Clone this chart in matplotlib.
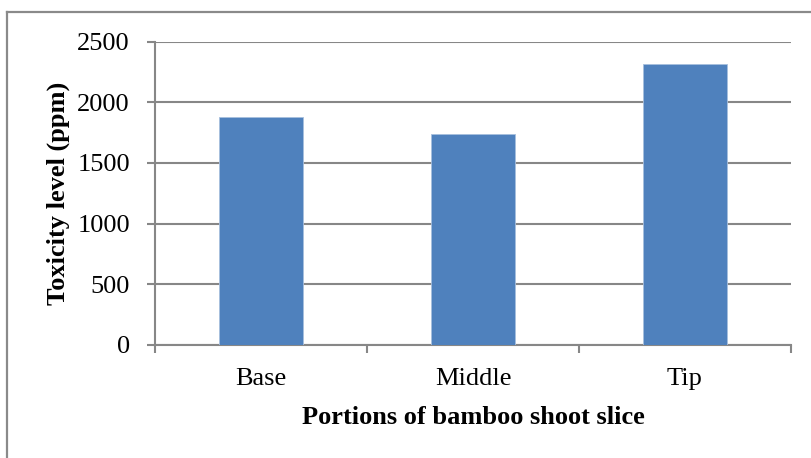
import matplotlib
matplotlib.use("Agg")
import matplotlib.pyplot as plt
from matplotlib.lines import Line2D

categories = ["Base", "Middle", "Tip"]
values = [1880, 1735, 2313]
yticks = [0, 500, 1000, 1500, 2000, 2500]

plt.rcParams['font.family'] = ['Liberation Serif', 'DejaVu Serif']

W, H = 812, 458
fig = plt.figure(figsize=(W/100, H/100), dpi=100)
ax = fig.add_axes([155/W, 1-344.7/H, (791-155)/W, (344.7-41.7)/H])

grid_c = '#878787'
x = list(range(len(categories)))
ax.bar(x, values, width=0.4, color='#4F81BD', edgecolor='#A7BFDE', linewidth=0.6, zorder=3)
ax.set_xlim(-0.5, len(categories)-0.5)
ax.set_ylim(0, 2500)
ax.set_yticks(yticks)
ax.set_yticklabels([str(v) for v in yticks])
ax.yaxis.grid(True, color=grid_c, linewidth=1.5, zorder=0)
ax.set_axisbelow(True)

ax.set_xticks([i - 0.5 for i in range(len(categories)+1)], minor=False)
ax.set_xticklabels([])
ax.set_xticks(x, minor=True)
ax.set_xticklabels(categories, minor=True)
ax.tick_params(axis='x', which='major', length=6, width=1.5, color=grid_c, direction='out')
ax.tick_params(axis='x', which='minor', length=0, pad=16.5, labelsize=19)
ax.tick_params(axis='y', length=6, width=1.5, color=grid_c, pad=12, labelsize=19)

for s in ['top', 'right']:
    ax.spines[s].set_visible(False)
for s in ['left', 'bottom']:
    ax.spines[s].set_color(grid_c)
    ax.spines[s].set_linewidth(1.5)

ax.set_ylabel('Toxicity level (ppm)', fontsize=19, fontweight='bold', labelpad=5)
ax.set_xlabel('Portions of bamboo shoot slice', fontsize=19, fontweight='bold', labelpad=12)

# outer chart frame
fig.add_artist(Line2D([7/W, 7/W], [0, 1-12/H], color='#8a8a8a', linewidth=1.6, transform=fig.transFigure))
fig.add_artist(Line2D([7/W, 1], [1-12/H, 1-12/H], color='#8a8a8a', linewidth=1.6, transform=fig.transFigure))

fig.savefig('out.png', dpi=100)
